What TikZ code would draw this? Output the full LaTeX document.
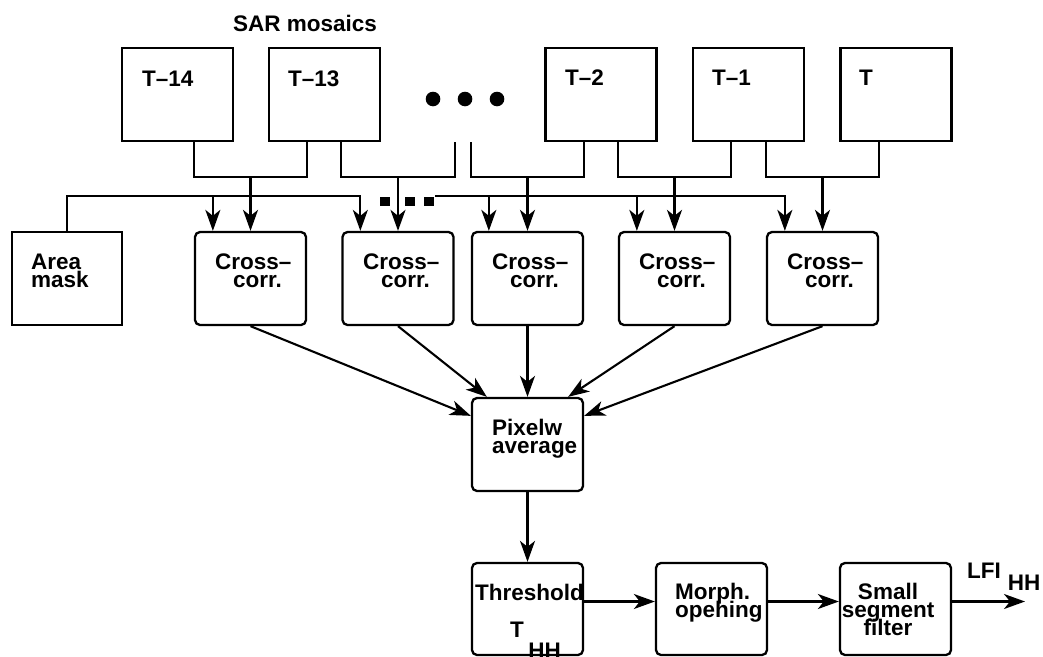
\documentclass[tikz,border=0pt]{standalone}
\usepackage{fontspec}
\setmainfont{Liberation Sans}
\usetikzlibrary{arrows.meta}
\newcommand\lbfont{\fontsize{22.5}{18}\selectfont\bfseries\lineskiplimit=-50pt\relax}
\begin{document}
\begin{tikzpicture}[x=1pt,y=-1pt,
  box/.style={draw, line width=2.3pt, minimum width=111pt, minimum height=93pt, inner sep=0pt},
  rbox/.style={box, rounded corners=5pt},
  lbl/.style={font=\lbfont, inner sep=0pt, anchor=base west, align=left},
  conn/.style={line width=2.1pt},
  arr/.style={conn, -{Stealth[length=21pt,width=15pt,inset=6pt]}},
]
\useasboundingbox (0,0) rectangle (1043,656);
% top row
\node[box] (t14) at (177.5,94.5) {};
\node[box] (t13) at (324.5,94.5) {};
\node[box] (t2) at (601,94.5) {};
\node[box] (t1) at (748.5,94.5) {};
\node[box] (t0) at (896,94.5) {};
% middle row
\node[box, minimum width=110pt] (mask) at (67,278.5) {};
\node[rbox] (cc1) at (250.5,278.5) {};
\node[rbox] (cc2) at (398,278.5) {};
\node[rbox] (cc3) at (527.5,278.5) {};
\node[rbox] (cc4) at (674.5,278.5) {};
\node[rbox] (cc5) at (822.5,278.5) {};
% lower
\node[rbox] (avg) at (527.5,444.5) {};
\node[rbox, minimum height=92pt] (thr) at (527.5,609) {};
\node[rbox, minimum height=92pt] (morph) at (711.5,609) {};
\node[rbox, minimum height=92pt] (ssf) at (895.5,609) {};
% labels (multi-line nodes are anchored at the baseline of their last line)
\node[lbl] (sar) at (233,31) {SAR mosaics};
\node[lbl] (lt14) at (142,86) {T–14};
\node[lbl] (lt13) at (288,86) {T–13};
\node[lbl] (lt2) at (565,85) {T–2};
\node[lbl] (lt1) at (712,85) {T–1};
\node[lbl] (lt0) at (859,85) {T};
\node[lbl] (lmask) at (31,287) {Area\\mask};
\node[lbl] (lcc1) at (215,287) {Cross–\\\hspace*{18pt}corr.};
\node[lbl] (lcc2) at (363,287) {Cross–\\\hspace*{18pt}corr.};
\node[lbl] (lcc3) at (492,287) {Cross–\\\hspace*{18pt}corr.};
\node[lbl] (lcc4) at (639,287) {Cross–\\\hspace*{18pt}corr.};
\node[lbl] (lcc5) at (787,287) {Cross–\\\hspace*{18pt}corr.};
\node[lbl] (lavg) at (492,453) {Pixelw\\average};
\node[lbl] (lthr) at (475,600) {Threshold};
\node[lbl] (lthh) at (510,637) {T\hspace{4.5pt}\raisebox{-21pt}{HH}};
\node[lbl] (lmorph) at (675,617) {Morph.\\opehing};
\node[lbl, align=center, anchor=base] (lssf) at (888,635) {Small\\segment\\filter};
\node[lbl] (llfi) at (967,578) {LFI\hspace{7pt}\raisebox{-12pt}{HH}};
% dots
\fill (433,99) circle (7.3);
\fill (465,99) circle (7.3);
\fill (497,99) circle (7.3);
% helper rows
\coordinate (r1) at (0,177);
\coordinate (r2) at (0,196);
% buses from mosaics
\draw[conn] (t14.south -| cc1.west) -- (cc1.west |- r1) -- (cc1.east |- r1) -- (t13.south -| cc1.east);
\draw[conn] (t13.south -| cc2.west) -- (cc2.west |- r1) -- (cc2.east |- r1) -- (t13.south -| cc2.east);
\draw[conn] (t2.south -| cc3.west) -- (cc3.west |- r1) -- (cc3.east |- r1) -- (t2.south -| cc3.east);
\draw[conn] (t2.south -| cc4.west) -- (cc4.west |- r1) -- (cc4.east |- r1) -- (t1.south -| cc4.east);
\draw[conn] (t1.south -| cc5.west) -- (cc5.west |- r1) -- (cc5.east |- r1) -- (t0.south -| cc5.east);
\foreach \c in {cc1,cc2,cc3,cc4,cc5}{
  \draw[arr] (\c.north |- r1) -- (\c.north);
}
% area mask bus
\coordinate (m1) at ([xshift=19pt]cc1.north west);
\coordinate (m2) at ([xshift=19pt]cc2.north west);
\coordinate (m3) at ([xshift=18pt]cc3.north west);
\coordinate (m4) at ([xshift=19pt]cc4.north west);
\coordinate (m5) at ([xshift=19pt]cc5.north west);
\coordinate (gapend) at (435,196);
\draw[arr] (mask.north) -- (mask.north |- r2) -- (m2 |- r2) -- (m2);
\draw[arr] (m1 |- r2) -- (m1);
\draw[arr] (gapend) -- (m5 |- r2) -- (m5);
\draw[arr] (m3 |- r2) -- (m3);
\draw[arr] (m4 |- r2) -- (m4);
\fill (380,197) rectangle (390,206);
\fill (405,197) rectangle (415,206);
\fill (424,197) rectangle (434,206);
% to average
\draw[arr] (cc1.south) -- ([yshift=-19pt]avg.north west);
\draw[arr] (cc2.south) -- ([xshift=16pt]avg.north west);
\draw[arr] (cc3.south) -- (avg.north);
\draw[arr] (cc4.south) -- ([xshift=-16pt]avg.north east);
\draw[arr] (cc5.south) -- ([yshift=-19pt]avg.north east);
\draw[arr] (avg.south) -- (thr.north);
% bottom chain
\coordinate (out) at (1025,601.5);
\draw[arr] ([yshift=7.5pt]thr.east) -- ([yshift=7.5pt]morph.west);
\draw[arr] ([yshift=7.5pt]morph.east) -- ([yshift=7.5pt]ssf.west);
\draw[arr] ([yshift=7.5pt]ssf.east) -- (out);
\end{tikzpicture}
\end{document}
